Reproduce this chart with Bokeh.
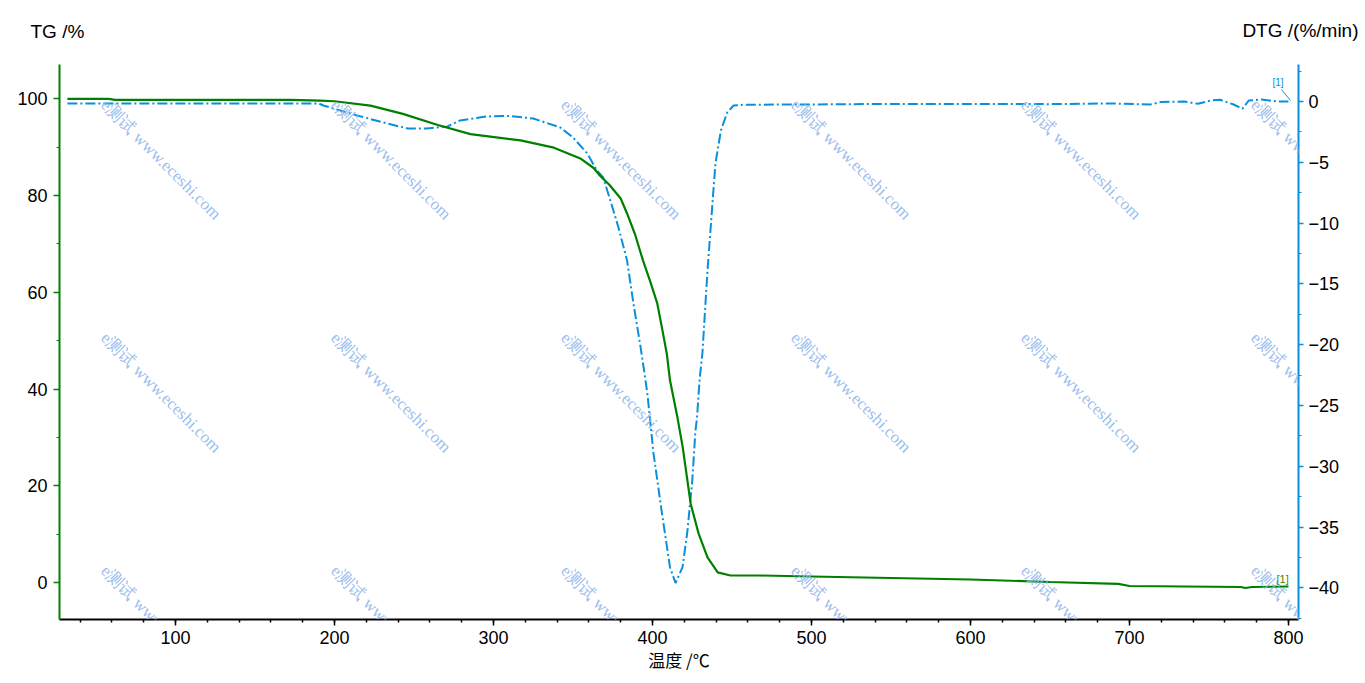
import math
from bokeh.plotting import figure
from bokeh.models import (Range1d, LinearAxis, SingleIntervalTicker, Label, Arrow)
from bokeh.embed import file_html
from bokeh.resources import INLINE

# ---- data ----
tg_temp = [32, 58, 62, 172, 191, 200, 222.6, 243, 265, 285.5, 317, 338, 355, 363, 367,
           373, 380, 384, 389, 394, 398.5, 403, 406, 409, 411, 415.7, 419, 424, 429,
           434.6, 441, 449, 468, 500, 600, 650, 693, 700, 770, 773, 777, 800]
tg_val = [100.0, 100.0, 99.8, 99.8, 99.65, 99.5, 98.6, 96.9, 94.6, 92.7, 91.4, 89.9, 87.6,
          85.7, 84.1, 82.2, 79.4, 76.3, 72.0, 66.6, 62.3, 57.7, 52.6, 47.3, 41.8, 34.1,
          28.0, 16.3, 10.1, 5.2, 2.1, 1.45, 1.45, 1.24, 0.62, 0.1, -0.3, -0.72, -0.93,
          -1.14, -0.93, -0.83]

dtg_temp = [32, 190, 193, 212, 233, 246, 258, 271, 279, 296, 309, 325, 342, 350, 359, 365,
            369, 373.5, 378.6, 384, 388, 392.5, 395.6, 397, 400.6, 406, 411, 414.5,
            418.9, 422, 425, 427, 428, 429.6, 431.4, 434.6, 437.7, 439.6, 443, 447, 451,
            457, 493, 550, 600, 650, 688, 713, 719.5, 734, 743, 751, 757, 765.5, 771,
            775, 783, 793, 800]
dtg_val = [-0.16, -0.16, -0.33, -1.07, -1.81, -2.22, -2.22, -2.06, -1.56, -1.23, -1.19,
           -1.4, -2.14, -2.96, -4.28, -5.67, -6.25, -8.14, -10.36, -13.07, -16.6, -20.2,
           -22.9, -24.3, -28.9, -33.9, -38.3, -39.6, -38.3, -35.3, -31.2, -27.1, -26.0,
           -22.9, -20.7, -13.9, -8.4, -5.1, -2.4, -0.9, -0.33, -0.27, -0.25, -0.2, -0.2,
           -0.22, -0.16, -0.25, -0.05, 0.0, -0.19, 0.08, 0.14, -0.25, -0.6, 0.08, 0.16,
           0.0, 0.0]

x_title = "温度 /℃"
left_title = "TG /%"
right_title = "DTG /(%/min)"
watermark = "e测试 www.eceshi.com"

GREEN = "#008000"
BLUE = "#0890DA"
FONT = "Liberation Sans"

FL, FR, FT, FB = 59, 1298, 64, 619   # frame edges in page pixels
W, H = 1365, 683

p = figure(width=W, height=H,
           x_range=Range1d(27.04, 806.3), y_range=Range1d(-7.65, 107.1),
           output_backend="svg", toolbar_location=None,
           min_border_left=FL, min_border_right=W - FR,
           min_border_top=FT, min_border_bottom=H - FB)
p.outline_line_color = None
p.grid.visible = False
p.background_fill_color = "white"
p.extra_y_ranges = {"dtg": Range1d(-42.6, 3.04)}

# bottom axis
xa = p.xaxis[0]
xa.ticker = SingleIntervalTicker(interval=100, num_minor_ticks=5)
xa.axis_line_color = "black"
xa.axis_line_width = 2
xa.major_tick_line_color = "black"
xa.minor_tick_line_color = "black"
xa.major_tick_line_width = 1.5
xa.minor_tick_line_width = 1.5
xa.major_tick_out = 6
xa.major_tick_in = 0
xa.minor_tick_out = 3
xa.minor_tick_in = 0
xa.major_label_standoff = 5
xa.axis_label = x_title
xa.axis_label_text_font = "Noto Sans CJK SC"
xa.axis_label_text_font_size = "17px"
xa.axis_label_text_font_style = "normal"
xa.axis_label_text_color = "black"
xa.axis_label_standoff = 0

# left axis
ya = p.yaxis[0]
ya.ticker = SingleIntervalTicker(interval=20, num_minor_ticks=2)
ya.axis_line_color = GREEN
ya.axis_line_width = 2
ya.major_tick_line_color = GREEN
ya.minor_tick_line_color = GREEN
ya.major_tick_line_width = 1.5
ya.major_tick_out = 6
ya.major_tick_in = 0
ya.minor_tick_out = 3
ya.minor_tick_in = 0
ya.major_label_standoff = 6

# right axis
ra = LinearAxis(y_range_name="dtg",
                ticker=SingleIntervalTicker(interval=5, num_minor_ticks=2))
ra.axis_line_color = BLUE
ra.axis_line_width = 2
ra.major_tick_line_color = BLUE
ra.minor_tick_line_color = BLUE
ra.major_tick_line_width = 1.5
ra.major_tick_out = 5
ra.major_tick_in = 0
ra.minor_tick_out = 3
ra.minor_tick_in = 0
ra.major_label_standoff = 5
p.add_layout(ra, "right")

for ax in (xa, ya, ra):
    ax.major_label_text_font = FONT
    ax.major_label_text_font_size = "18px"
    ax.major_label_text_color = "black"

# watermark
for r in range(3):
    for c in range(6):
        px = 110 + 230 * c
        py = 95 + 233 * r
        p.add_layout(Label(x=px - FL, y=FB - py, x_units="screen", y_units="screen",
                           text=watermark, angle=-math.pi / 4,
                           text_align="left", text_baseline="top",
                           text_color="#8fb6ec", text_alpha=0.9,
                           text_font="Liberation Serif", text_font_size="17px"))

# curves
p.line(dtg_temp, dtg_val, y_range_name="dtg", line_color=BLUE, line_width=2,
       line_dash="10 3 2 3")
p.line(tg_temp, tg_val, line_color=GREEN, line_width=2.2)

# titles (in the top panel, so they are not clipped to the frame)
p.add_layout(Label(x=30 - FL, y=FT - 31, x_units="screen", y_units="screen",
                   text=left_title, text_align="left", text_baseline="middle",
                   text_font=FONT, text_font_size="19px", text_color="black"), "above")
p.add_layout(Label(x=1358 - FL, y=FT - 31 - 20, x_units="screen", y_units="screen",
                   text=right_title, text_align="right", text_baseline="middle",
                   text_font=FONT, text_font_size="19px", text_color="black"), "above")

# curve tags
p.add_layout(Label(x=1272 - FL, y=FB - 82, x_units="screen", y_units="screen", text="[1]",
                   text_align="left", text_baseline="middle", text_font=FONT,
                   text_font_size="10px", text_color=BLUE))
p.add_layout(Arrow(end=None, x_start=1281 - FL, y_start=FB - 89, x_end=1290 - FL,
                   y_end=FB - 100, start_units="screen", end_units="screen",
                   line_color=BLUE, line_width=1))
p.add_layout(Label(x=1276 - FL, y=FB - 578, x_units="screen", y_units="screen", text="[1]",
                   text_align="left", text_baseline="middle", text_font=FONT,
                   text_font_size="11px", text_color="#3a8a10"))

open("out.html", "w").write(file_html(p, INLINE))
